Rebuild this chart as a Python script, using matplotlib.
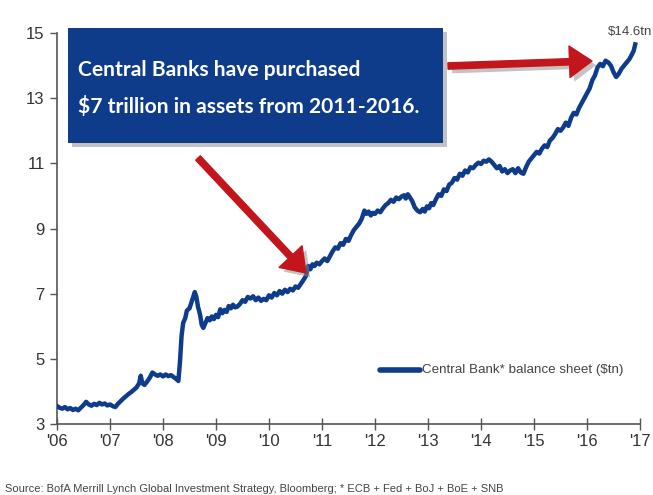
import matplotlib
matplotlib.use("Agg")
import matplotlib.pyplot as plt
from matplotlib.patches import Rectangle, FancyArrowPatch, ArrowStyle
import matplotlib.patheffects as pe
from matplotlib.lines import Line2D

# ---- data ----
years = [
    2006.00, 2006.05, 2006.10, 2006.15, 2006.20, 2006.25, 2006.30, 2006.35, 2006.40, 2006.45,
    2006.50, 2006.55, 2006.60, 2006.65, 2006.70, 2006.75, 2006.80, 2006.85, 2006.90, 2006.95,
    2007.00, 2007.05, 2007.10, 2007.15, 2007.20, 2007.25, 2007.30, 2007.35, 2007.40, 2007.45,
    2007.50, 2007.55, 2007.58, 2007.61, 2007.65, 2007.70, 2007.75, 2007.80, 2007.85, 2007.90,
    2007.95, 2008.00, 2008.05, 2008.10, 2008.15, 2008.20, 2008.25, 2008.29, 2008.32, 2008.35,
    2008.38, 2008.42, 2008.45, 2008.50, 2008.53, 2008.57, 2008.60, 2008.63, 2008.66, 2008.70,
    2008.73, 2008.76, 2008.80, 2008.84, 2008.88, 2008.92, 2008.96, 2009.00, 2009.04, 2009.08,
    2009.12, 2009.16, 2009.20, 2009.24, 2009.28, 2009.32, 2009.36, 2009.40, 2009.45, 2009.50,
    2009.55, 2009.60, 2009.65, 2009.70, 2009.75, 2009.80, 2009.85, 2009.90, 2009.95, 2010.00,
    2010.05, 2010.10, 2010.15, 2010.20, 2010.25, 2010.30, 2010.35, 2010.40, 2010.45, 2010.50,
    2010.55, 2010.60, 2010.65, 2010.70, 2010.74, 2010.78, 2010.82, 2010.86, 2010.90, 2010.95,
    2011.00, 2011.05, 2011.10, 2011.15, 2011.20, 2011.25, 2011.30, 2011.35, 2011.40, 2011.45,
    2011.50, 2011.55, 2011.60, 2011.65, 2011.70, 2011.75, 2011.80, 2011.84, 2011.88, 2011.92,
    2011.96, 2012.00, 2012.05, 2012.10, 2012.15, 2012.20, 2012.25, 2012.30, 2012.35, 2012.40,
    2012.45, 2012.50, 2012.55, 2012.58, 2012.62, 2012.66, 2012.70, 2012.75, 2012.80, 2012.85,
    2012.90, 2012.94, 2012.98, 2013.02, 2013.06, 2013.10, 2013.15, 2013.20, 2013.25, 2013.30,
    2013.35, 2013.40, 2013.45, 2013.50, 2013.55, 2013.60, 2013.65, 2013.70, 2013.75, 2013.80,
    2013.85, 2013.90, 2013.95, 2014.00, 2014.05, 2014.10, 2014.15, 2014.20, 2014.25, 2014.30,
    2014.35, 2014.40, 2014.45, 2014.50, 2014.55, 2014.60, 2014.65, 2014.70, 2014.75, 2014.80,
    2014.85, 2014.90, 2014.95, 2015.00, 2015.05, 2015.10, 2015.15, 2015.20, 2015.25, 2015.30,
    2015.35, 2015.40, 2015.45, 2015.50, 2015.55, 2015.60, 2015.65, 2015.70, 2015.75, 2015.80,
    2015.85, 2015.90, 2015.95, 2016.00, 2016.05, 2016.10, 2016.15, 2016.20, 2016.25, 2016.30,
    2016.35, 2016.40, 2016.45, 2016.50, 2016.55, 2016.60, 2016.65, 2016.70, 2016.75, 2016.80,
    2016.85, 2016.88, 2016.91,
]
balance_tn = [
    3.55, 3.50, 3.47, 3.52, 3.45, 3.49, 3.43, 3.47, 3.42, 3.50,
    3.58, 3.68, 3.60, 3.56, 3.62, 3.58, 3.65, 3.60, 3.63, 3.57,
    3.60, 3.55, 3.52, 3.62, 3.70, 3.78, 3.85, 3.92, 3.98, 4.05,
    4.12, 4.25, 4.48, 4.25, 4.20, 4.30, 4.42, 4.58, 4.52, 4.48,
    4.52, 4.46, 4.52, 4.47, 4.50, 4.44, 4.38, 4.32, 4.90, 5.70,
    6.10, 6.25, 6.48, 6.55, 6.70, 6.90, 7.05, 6.90, 6.60, 6.35,
    6.05, 5.95, 6.10, 6.25, 6.18, 6.30, 6.22, 6.35, 6.28, 6.52,
    6.40, 6.50, 6.44, 6.62, 6.55, 6.66, 6.58, 6.60, 6.68, 6.80,
    6.75, 6.90, 6.85, 6.92, 6.80, 6.88, 6.78, 6.84, 6.80, 6.95,
    6.88, 7.02, 6.95, 7.08, 7.00, 7.12, 7.05, 7.15, 7.10, 7.22,
    7.18, 7.30, 7.42, 7.55, 7.85, 7.75, 7.90, 7.85, 7.95, 7.90,
    8.00, 8.08, 8.00, 8.15, 8.30, 8.42, 8.38, 8.55, 8.50, 8.68,
    8.62, 8.80, 8.95, 9.05, 9.15, 9.30, 9.55, 9.45, 9.52, 9.40,
    9.48, 9.45, 9.55, 9.50, 9.62, 9.72, 9.78, 9.88, 9.82, 9.95,
    9.90, 9.98, 10.02, 9.92, 10.05, 9.95, 9.85, 9.65, 9.55, 9.50,
    9.60, 9.52, 9.68, 9.62, 9.78, 9.72, 9.90, 10.05, 10.00, 10.20,
    10.15, 10.35, 10.40, 10.55, 10.50, 10.68, 10.62, 10.78, 10.72, 10.88,
    10.85, 10.95, 11.02, 10.98, 11.08, 11.05, 11.12, 11.05, 10.95, 10.85,
    10.92, 10.75, 10.82, 10.70, 10.78, 10.82, 10.70, 10.85, 10.72, 10.68,
    10.88, 11.05, 11.15, 11.25, 11.35, 11.30, 11.45, 11.55, 11.50, 11.70,
    11.78, 11.90, 12.05, 12.00, 12.10, 12.25, 12.15, 12.40, 12.55, 12.50,
    12.70, 12.85, 13.00, 13.15, 13.30, 13.55, 13.70, 13.95, 14.05, 13.98,
    14.15, 14.10, 14.00, 13.80, 13.65, 13.75, 13.90, 14.00, 14.10, 14.20,
    14.35, 14.45, 14.65,
]
y_ticks = [3, 5, 7, 9, 11, 13, 15]
x_ticks = list(range(2006, 2018))
x_tick_labels = ["'06", "'07", "'08", "'09", "'10", "'11", "'12", "'13", "'14", "'15", "'16", "'17"]
series_label = "Central Bank* balance sheet ($tn)"
end_label = "$14.6tn"
callout_lines = ["Central Banks have purchased", "$7 trillion in assets from 2011-2016."]
source_text = "Source: BofA Merrill Lynch Global Investment Strategy, Bloomberg; * ECB + Fed + BoJ + BoE + SNB"

NAVY = "#0f3c8a"
RED = "#c3161c"
narrow = ["Liberation Sans", "DejaVu Sans"]

W, H = 653, 495
fig = plt.figure(figsize=(W / 100, H / 100), dpi=100)
fig.patch.set_facecolor("white")

# axes placement (pixels in image coords)
ax_l, ax_r, ax_t, ax_b = 57, 640, 33, 424
ax = fig.add_axes([ax_l / W, (H - ax_b) / H, (ax_r - ax_l) / W, (ax_b - ax_t) / H])
ax.plot(years, balance_tn, color=NAVY, lw=3.2, solid_joinstyle="round", zorder=3)
ax.set_xlim(2006, 2017)
ax.set_ylim(3, 15)
ax.set_yticks(y_ticks)
ax.set_xticks(x_ticks)
ax.set_xticklabels(x_tick_labels)
for s in ["top", "right"]:
    ax.spines[s].set_visible(False)
for s in ["left", "bottom"]:
    ax.spines[s].set_color("#555555")
    ax.spines[s].set_linewidth(1.2)
ax.tick_params(axis="y", direction="out", length=5, width=1, color="#555555", pad=4,
               labelsize=12, labelcolor="#333333")
ax.tick_params(axis="x", direction="inout", length=8, width=1, color="#555555", pad=3,
               labelsize=12, labelcolor="#333333")
for lab in ax.get_xticklabels() + ax.get_yticklabels():
    lab.set_family(narrow)

# legend (manual, no frame)
leg_y = H - 370
fig.add_artist(Line2D([380 / W, 420 / W], [leg_y / H, leg_y / H], color=NAVY, lw=4,
                      solid_capstyle="round"))
fig.text(422 / W, leg_y / H, series_label, family=narrow, fontsize=9.6, color="#444444",
         va="center", ha="left")

# end label
fig.text(630 / W, (H - 32) / H, end_label, family=narrow, fontsize=9.5, color="#444444",
         va="center", ha="center")

# call-out box with shadow
shadow = Rectangle((72 / 100, (H - 147) / 100), (443 - 68) / 100, (143 - 28) / 100,
                   transform=fig.dpi_scale_trans, facecolor="#9a9a9a", edgecolor="none",
                   alpha=0.6, zorder=4)
fig.add_artist(shadow)
box = Rectangle((68 / 100, (H - 143) / 100), (443 - 68) / 100, (143 - 28) / 100,
                transform=fig.dpi_scale_trans, facecolor=NAVY, edgecolor="none", zorder=5)
fig.add_artist(box)
fig.text(78 / W, (H - 70) / H, callout_lines[0], family=["Lato", "DejaVu Sans"], weight="bold",
         fontsize=15.1, color="white", va="center", ha="left", zorder=6)
fig.text(78 / W, (H - 107) / H, callout_lines[1], family=["Lato", "DejaVu Sans"], weight="bold",
         fontsize=15.1, color="white", va="center", ha="left", zorder=6)

# red arrows
arrow_style = ArrowStyle.Simple(head_length=1.5, head_width=2.1, tail_width=0.42)
shadow_fx = [pe.SimplePatchShadow(offset=(3, -3), shadow_rgbFace="#888888", alpha=0.5), pe.Normal()]
for (x0, y0), (x1, y1) in [((448, 66), (592, 61)), ((198, 158), (306, 273))]:
    arr = FancyArrowPatch((x0 / 100, (H - y0) / 100), (x1 / 100, (H - y1) / 100),
                          transform=fig.dpi_scale_trans, arrowstyle=arrow_style,
                          mutation_scale=10.8, color=RED, zorder=7, shrinkA=0, shrinkB=0)
    arr.set_path_effects(shadow_fx)
    fig.add_artist(arr)

# source
fig.text(5 / W, (H - 489) / H, source_text, family=narrow, fontsize=8.0, color="#444444",
         va="center", ha="left")

fig.savefig("out.png", dpi=100, facecolor="white")
